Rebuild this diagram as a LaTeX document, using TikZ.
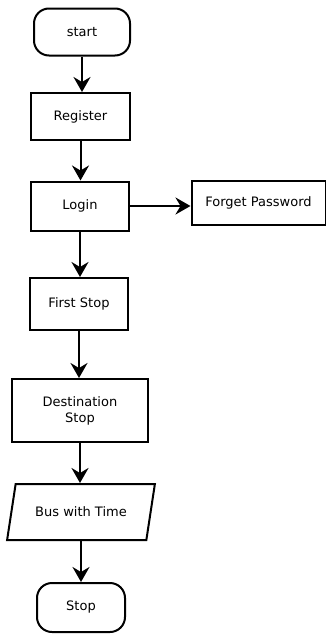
\documentclass[tikz,border=0pt]{standalone}
\usepackage{fontspec}
\setmainfont{DejaVu Sans}
\usetikzlibrary{shapes.geometric,arrows.meta}
\definecolor{fcblack}{RGB}{0,0,0}

\begin{document}
\begin{tikzpicture}[x=1pt, y=-1pt, line width=2pt,
  every node/.style={font=\fontsize{13}{16}\selectfont, align=center},
  terminal/.style={draw=fcblack, rounded corners=15pt},
  procbox/.style={draw=fcblack, rectangle},
  iobox/.style={draw=fcblack, trapezium, trapezium left angle=69, trapezium right angle=111, trapezium stretches=true},
  flow/.style={-{Stealth[length=15pt, width=17pt, inset=5pt]}, fcblack}]
\useasboundingbox (0,0) rectangle (326,635);

% Main column
\node[terminal, minimum width=96pt, minimum height=47pt] (start) at (82, 32) {start};
\node[procbox, minimum width=99pt, minimum height=47pt] (register) at (80.5, 116.5) {Register};
\node[procbox, minimum width=98pt, minimum height=49pt] (login) at (80, 206) {Login};
\node[procbox, minimum width=98pt, minimum height=52pt] (firststop) at (79, 304) {First Stop};
\node[procbox, minimum width=136pt, minimum height=63pt] (dest) at (80, 410.5) {Destination\\Stop};
\node[iobox, minimum width=148pt, minimum height=56pt] (bus) at (81, 512) {Bus with Time};
\node[terminal, minimum width=88pt, minimum height=49pt] (stop) at (81, 607.5) {Stop};

% Side branch
\node[procbox, minimum width=134pt, minimum height=44pt] (forget) at (258.5, 203) {Forget Password};

% Arrows
\draw[flow] (start) -- (start |- register.north);
\draw[flow] (register) -- (register |- login.north);
\draw[flow] (login) -- (login |- firststop.north);
\draw[flow] (firststop) -- (firststop |- dest.north);
\draw[flow] (dest) -- (dest |- bus.north);
\draw[flow] (bus) -- (bus |- stop.north);
\draw[flow] (login.east) -- (login.east -| forget.west);
\end{tikzpicture}
\end{document}
